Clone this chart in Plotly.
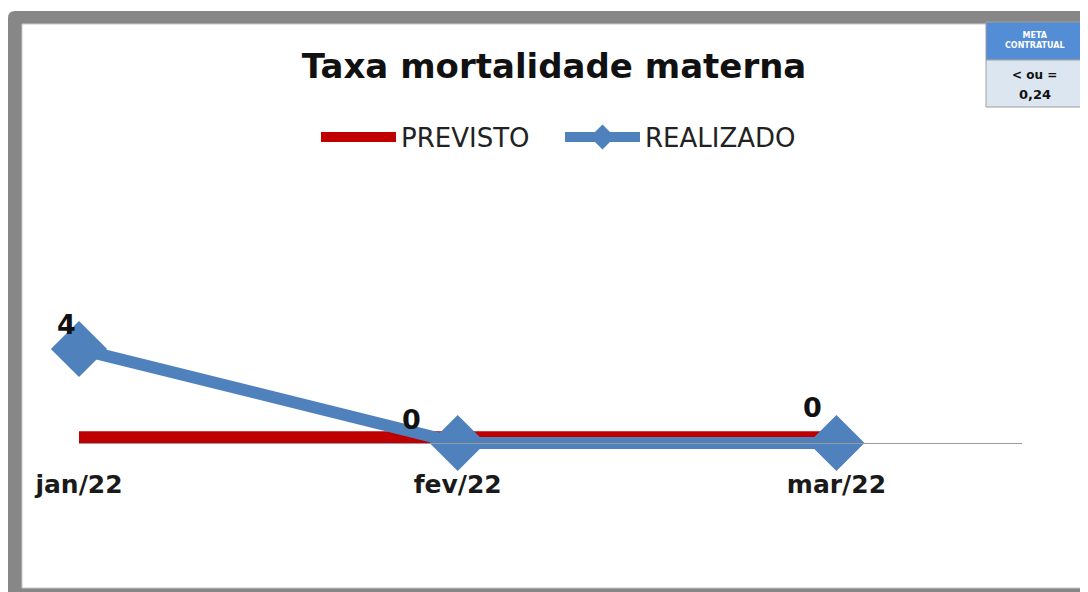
import plotly.graph_objects as go

categories = ["jan/22", "fev/22", "mar/22"]
previsto = [0.24, 0.24, 0.24]
realizado = [4, 0, 0]
label_text = ["4", "0", "0"]
label_shift_x = [-13, -46, -24]
label_shift_y = [25, 24, 36]

# the page body has an 8px margin; the figure is sized to fit the window
OFF = 8
W, H = 1088 - OFF, 592 - OFF
# layout in window pixel coordinates
L, R = 79, 1022
T, B = 150, 520
Y0 = 443
PXU = 23.5
ymin = -(B - Y0) / PXU
ymax = (Y0 - T) / PXU


def px(x):
    return (x - L) / (R - L)


def py(y):
    return (B - y) / (B - T)


fig = go.Figure()
fig.add_trace(go.Scatter(
    x=categories, y=previsto, name="PREVISTO", mode="lines",
    line=dict(color="#C00000", width=12), cliponaxis=False))
fig.add_trace(go.Scatter(
    x=categories, y=realizado, name="REALIZADO", mode="lines+markers",
    line=dict(color="#4F81BD", width=12),
    marker=dict(symbol="diamond", size=40, color="#4F81BD",
                line=dict(color="#4F81BD", width=3)),
    cliponaxis=False))

for c, v, t, sx, sy in zip(categories, realizado, label_text, label_shift_x, label_shift_y):
    fig.add_annotation(x=c, y=v, text=t, showarrow=False, xshift=sx, yshift=sy,
                       font=dict(family="DejaVu Sans", size=27, color="#111111", weight="bold"))

shapes = []
# gray frame with rounded top-left corner
r = 7
x0, y0, x1, y1 = 8, 11, 1100, 600
path = (f"M {px(x0)} {py(y0 + r)} Q {px(x0)} {py(y0)} {px(x0 + r)} {py(y0)} "
        f"L {px(x1)} {py(y0)} L {px(x1)} {py(y1)} L {px(x0)} {py(y1)} Z")
shapes.append(dict(type="path", path=path, xref="paper", yref="paper",
                   fillcolor="#878787", line=dict(width=0), layer="below"))
shapes.append(dict(type="rect", xref="paper", yref="paper",
                   x0=px(22), x1=px(1100), y0=py(24), y1=py(588),
                   fillcolor="white", line=dict(color="#C8C8C8", width=1), layer="below"))
# meta box
shapes.append(dict(type="rect", xref="paper", yref="paper",
                   x0=px(1083), x1=px(1100), y0=py(22), y1=py(108),
                   fillcolor="white", line=dict(width=0), layer="above"))
shapes.append(dict(type="rect", xref="paper", yref="paper",
                   x0=px(986), x1=px(1083), y0=py(22), y1=py(60),
                   fillcolor="#538DD5", line=dict(color="#9E9E9E", width=1), layer="above"))
shapes.append(dict(type="rect", xref="paper", yref="paper",
                   x0=px(986), x1=px(1083), y0=py(60), y1=py(107),
                   fillcolor="#DCE6F1", line=dict(color="#9E9E9E", width=1), layer="above"))
fig.update_layout(shapes=shapes)

fig.add_annotation(xref="paper", yref="paper", x=px(1034.5), y=py(41),
                   xanchor="center", yanchor="middle",
                   text="META<br>CONTRATUAL", showarrow=False, align="center",
                   font=dict(family="DejaVu Sans", size=8, color="white", weight="bold"))
fig.add_annotation(xref="paper", yref="paper", x=px(1034.5), y=py(75),
                   xanchor="center", yanchor="middle",
                   text="< ou =", showarrow=False,
                   font=dict(family="DejaVu Sans", size=12, color="#111111", weight="bold"))
fig.add_annotation(xref="paper", yref="paper", x=px(1034.5), y=py(95),
                   xanchor="center", yanchor="middle",
                   text="0,24", showarrow=False,
                   font=dict(family="DejaVu Sans", size=13, color="#111111", weight="bold"))

fig.update_layout(
    width=W, height=H,
    margin=dict(l=L - OFF, r=W - (R - OFF), t=T - OFF, b=H - (B - OFF), autoexpand=False),
    paper_bgcolor="white", plot_bgcolor="rgba(0,0,0,0)",
    title=dict(text="<b>Taxa mortalidade materna</b>", x=(554 - OFF) / W, xanchor="center",
               y=1 - (66 - OFF) / H, yanchor="middle", yref="container",
               font=dict(family="DejaVu Sans", size=34, color="#111111")),
    legend=dict(orientation="h", xref="paper", yref="paper",
                x=px(560), xanchor="center", y=py(137), yanchor="middle",
                font=dict(family="DejaVu Sans", size=26, color="#222222"),
                itemwidth=75, entrywidth=154, bgcolor="rgba(0,0,0,0)"),
    showlegend=True,
    xaxis=dict(range=[0, 2.49], showgrid=False, zeroline=False,
               showline=True, linecolor="#9A9A9A", linewidth=1,
               anchor="free", position=(B - Y0) / (B - T),
               ticks="", ticklabelstandoff=19,
               tickfont=dict(family="DejaVu Sans", size=25, color="#1A1A1A", weight="bold")),
    yaxis=dict(range=[ymin, ymax], visible=False, showgrid=False, zeroline=False),
)

fig.write_html("out.html")
